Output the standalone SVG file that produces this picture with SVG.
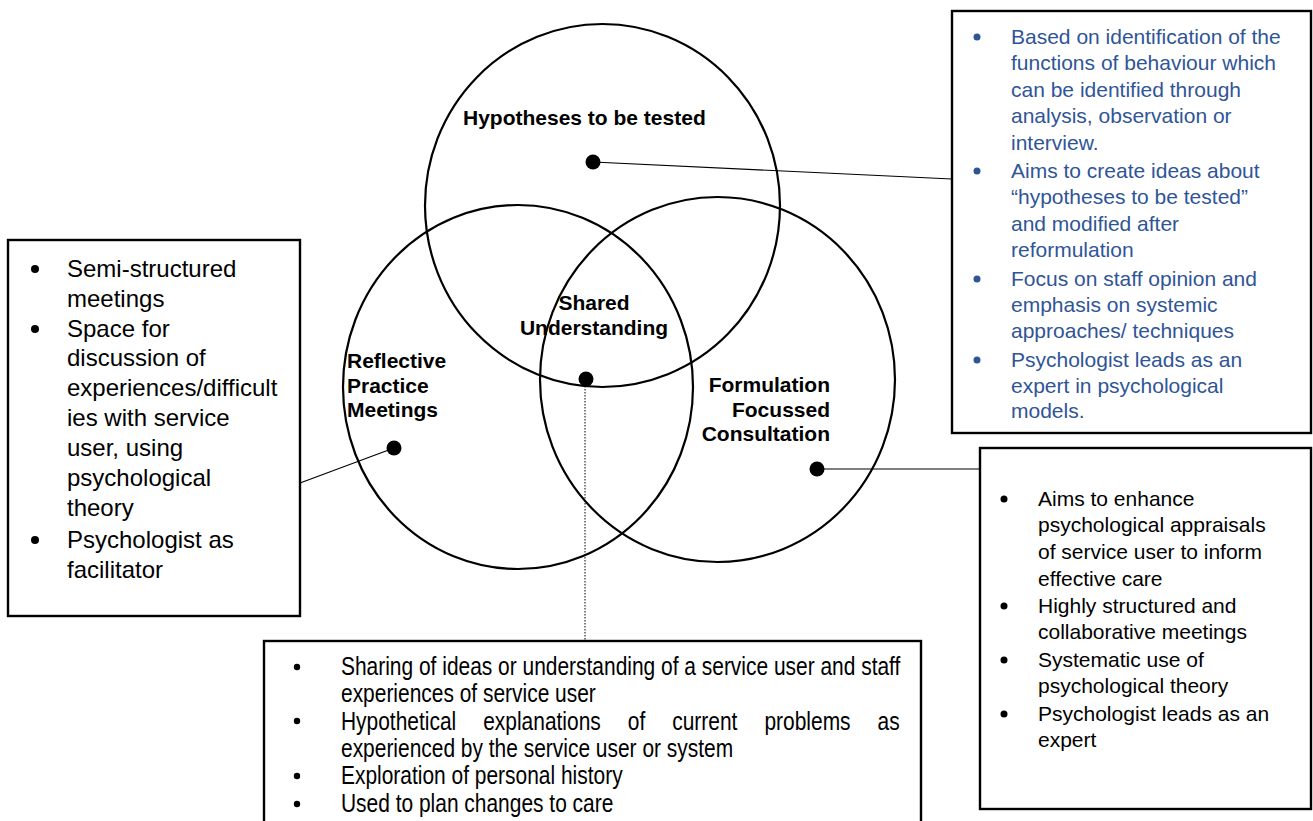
<svg xmlns="http://www.w3.org/2000/svg" width="1313" height="821" viewBox="0 0 1313 821">
<style>
.circ{fill:none;stroke:#000;stroke-width:2.2}
.box{fill:#fff;stroke:#000;stroke-width:2.4}
.lbl{font-family:"Liberation Sans",Arial,sans-serif;font-weight:bold;font-size:21px;fill:#000}
.blue{font-family:"Liberation Sans",Arial,sans-serif;font-size:21px;fill:#2F5597}
.lt{font-family:"Liberation Sans",Arial,sans-serif;font-size:24px;fill:#000}
.rt{font-family:"Liberation Sans",Arial,sans-serif;font-size:21px;fill:#000}
.bt{font-family:"Liberation Sans",Arial,sans-serif;font-size:25px;fill:#000}
.dot{fill:#000}
.conn{stroke:#000;stroke-width:1.2;fill:none}
</style>
<rect width="1313" height="821" fill="#fff"/>
<g id="connectors">
<line class="conn" x1="593" y1="162" x2="952" y2="179"/>
<line class="conn" x1="394" y1="448" x2="300" y2="483"/>
<line class="conn" x1="817" y1="469" x2="980" y2="469"/>
<line x1="585" y1="380" x2="585" y2="641" stroke="#000" stroke-width="1" stroke-dasharray="1.5 1.5"/>
</g>
<g id="circle-hypotheses">
<ellipse class="circ" cx="602.5" cy="205.5" rx="177.5" ry="181.5"/>
<text class="lbl" x="463" y="125">Hypotheses to be tested</text>
<circle class="dot" cx="593" cy="162" r="7.5"/>
</g>
<g id="circle-reflective">
<ellipse class="circ" cx="518" cy="387" rx="175" ry="182"/>
<text class="lbl" x="347" y="368">Reflective</text>
<text class="lbl" x="347" y="393">Practice</text>
<text class="lbl" x="347" y="417">Meetings</text>
<circle class="dot" cx="394" cy="448" r="7.5"/>
</g>
<g id="circle-formulation">
<ellipse class="circ" cx="717.5" cy="379.5" rx="177.5" ry="182.5"/>
<text class="lbl" x="830" y="392" text-anchor="end">Formulation</text>
<text class="lbl" x="830" y="417" text-anchor="end">Focussed</text>
<text class="lbl" x="830" y="441" text-anchor="end">Consultation</text>
<circle class="dot" cx="817" cy="469" r="7.5"/>
</g>
<g id="shared-understanding">
<text class="lbl" x="594" y="310" text-anchor="middle">Shared</text>
<text class="lbl" x="594" y="335" text-anchor="middle">Understanding</text>
<circle class="dot" cx="586" cy="379" r="7.5"/>
</g>
<g id="box-hypotheses">
<rect class="box" x="952" y="11" width="359" height="422" stroke-width="2.8"/>
<g fill="#2F5597">
<circle cx="977" cy="37" r="3.5"/>
<circle cx="977" cy="171" r="3.5"/>
<circle cx="977" cy="279" r="3.5"/>
<circle cx="977" cy="360" r="3.5"/>
</g>
<text class="blue" x="1011" y="44">Based on identification of the</text>
<text class="blue" x="1011" y="70">functions of behaviour which</text>
<text class="blue" x="1011" y="97">can be identified through</text>
<text class="blue" x="1011" y="123">analysis, observation or</text>
<text class="blue" x="1011" y="150">interview.</text>
<text class="blue" x="1011" y="178">Aims to create ideas about</text>
<text class="blue" x="1011" y="204">“hypotheses to be tested”</text>
<text class="blue" x="1011" y="231">and modified after</text>
<text class="blue" x="1011" y="257">reformulation</text>
<text class="blue" x="1011" y="286">Focus on staff opinion and</text>
<text class="blue" x="1011" y="312">emphasis on systemic</text>
<text class="blue" x="1011" y="338">approaches/ techniques</text>
<text class="blue" x="1011" y="367">Psychologist leads as an</text>
<text class="blue" x="1011" y="393">expert in psychological</text>
<text class="blue" x="1011" y="418">models.</text>
</g>
<g id="box-reflective">
<rect class="box" x="8" y="240" width="292" height="376"/>
<g class="dot">
<circle cx="35" cy="269" r="4"/>
<circle cx="35" cy="329" r="4"/>
<circle cx="35" cy="540" r="4"/>
</g>
<text class="lt" x="67" y="277">Semi-structured</text>
<text class="lt" x="67" y="307">meetings</text>
<text class="lt" x="67" y="337">Space for</text>
<text class="lt" x="67" y="366">discussion of</text>
<text class="lt" x="67" y="396">experiences/difficult</text>
<text class="lt" x="67" y="426">ies with service</text>
<text class="lt" x="67" y="456">user, using</text>
<text class="lt" x="67" y="486">psychological</text>
<text class="lt" x="67" y="516">theory</text>
<text class="lt" x="67" y="548">Psychologist as</text>
<text class="lt" x="67" y="578">facilitator</text>
</g>
<g id="box-formulation">
<rect class="box" x="980" y="448" width="331" height="361"/>
<g class="dot">
<circle cx="1004" cy="499" r="3.5"/>
<circle cx="1004" cy="606" r="3.5"/>
<circle cx="1004" cy="660" r="3.5"/>
<circle cx="1004" cy="714" r="3.5"/>
</g>
<text class="rt" x="1038" y="506">Aims to enhance</text>
<text class="rt" x="1038" y="532">psychological appraisals</text>
<text class="rt" x="1038" y="559">of service user to inform</text>
<text class="rt" x="1038" y="586">effective care</text>
<text class="rt" x="1038" y="613">Highly structured and</text>
<text class="rt" x="1038" y="639">collaborative meetings</text>
<text class="rt" x="1038" y="667">Systematic use of</text>
<text class="rt" x="1038" y="693">psychological theory</text>
<text class="rt" x="1038" y="721">Psychologist leads as an</text>
<text class="rt" x="1038" y="747">expert</text>
</g>
<g id="box-shared">
<rect class="box" x="264" y="641" width="657" height="200"/>
<g class="dot">
<circle cx="297" cy="667" r="3.2"/>
<circle cx="297" cy="721" r="3.2"/>
<circle cx="297" cy="776" r="3.2"/>
<circle cx="297" cy="804" r="3.2"/>
</g>
<g transform="translate(341 0) scale(0.838 1)">
<text class="bt" x="0" y="675">Sharing of ideas or understanding of a service user and staff</text>
<text class="bt" x="0" y="702">experiences of service user</text>
<text class="bt" x="0" y="730" word-spacing="25.3">Hypothetical explanations of current problems as</text>
<text class="bt" x="0" y="757">experienced by the service user or system</text>
<text class="bt" x="0" y="784">Exploration of personal history</text>
<text class="bt" x="0" y="812">Used to plan changes to care</text>
</g>
</g>
</svg>
